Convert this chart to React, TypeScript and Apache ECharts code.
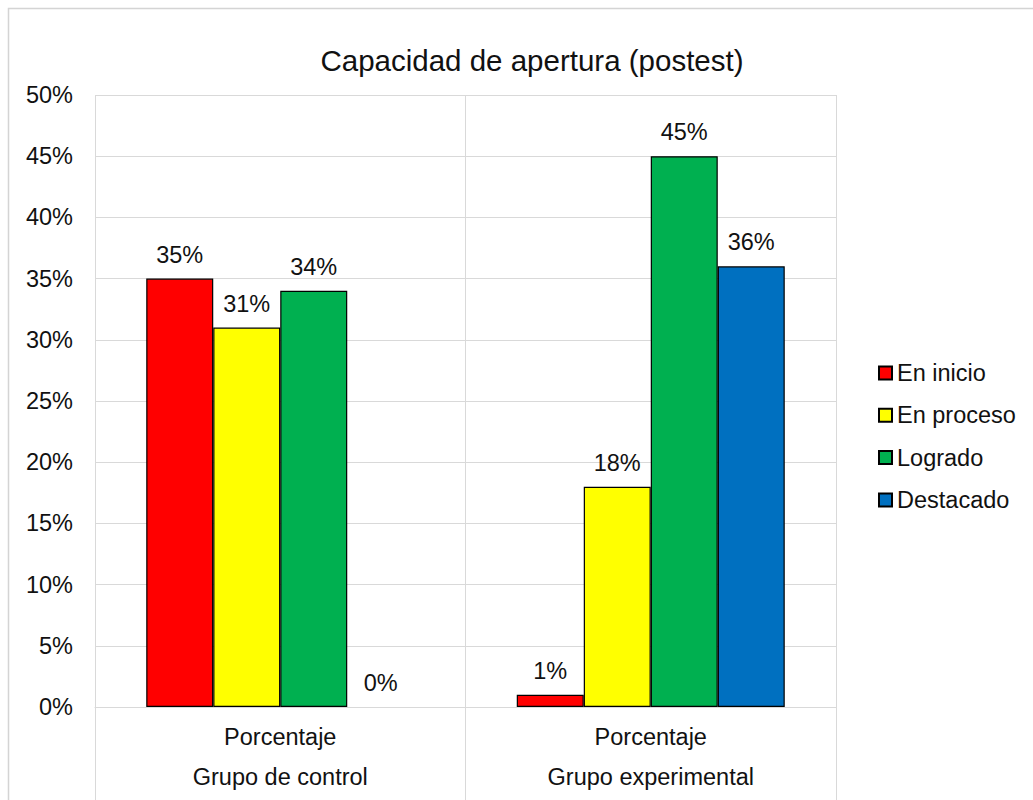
import React, { useEffect, useRef } from "react";
import * as echarts from "echarts";

const groups = ["Grupo de control", "Grupo experimental"];
const subLabel = "Porcentaje";
const enInicio = [35, 1];
const enProceso = [31, 18];
const logrado = [34, 45];
const destacado = [0, 36];
const seriesNames = ["En inicio", "En proceso", "Logrado", "Destacado"];
const seriesColors = ["#FF0000", "#FFFF00", "#00B050", "#0070C0"];
const FONT = "'Liberation Sans', Arial, sans-serif";
const TEXT = "#111111";
const GRID = "#d9d9d9";

export default function App() {
  const ref = useRef<HTMLDivElement>(null);

  useEffect(() => {
    if (!ref.current) return;
    const chart = echarts.init(ref.current, undefined, { renderer: "svg" });
    const values = [enInicio, enProceso, logrado, destacado];

    chart.setOption({
      animation: false,
      backgroundColor: "#ffffff",
      textStyle: { fontFamily: FONT },
      title: {
        text: "Capacidad de apertura (postest)",
        left: 527,
        top: 40,
        textAlign: "center",
        textStyle: { fontFamily: FONT, fontSize: 29.5, fontWeight: "normal", color: TEXT },
      },
      graphic: [
        {
          type: "rect",
          shape: { x: 8.5, y: 8.5, width: 1200, height: 1000 },
          style: { fill: "none", stroke: "#d4d4d4", lineWidth: 1.5 },
          silent: true,
          z: -10,
        },
      ],
      legend: {
        orient: "vertical",
        left: 873,
        top: 356,
        itemWidth: 13,
        itemHeight: 13,
        itemGap: 18.3,
        icon: "rect",
        textStyle: { fontFamily: FONT, fontSize: 23.5, color: TEXT, lineHeight: 24 },
        data: seriesNames,
      },
      grid: { left: 95, right: 197, top: 95, bottom: 93, containLabel: false },
      xAxis: {
        type: "category",
        data: groups,
        boundaryGap: true,
        axisLine: { show: true, lineStyle: { color: GRID, width: 1 } },
        axisTick: { show: true, length: 95, lineStyle: { color: GRID, width: 1 } },
        splitLine: { show: true, lineStyle: { color: GRID, width: 1 } },
        axisLabel: {
          margin: 10,
          interval: 0,
          formatter: (v: string) => `${subLabel}\n${v}`,
          fontFamily: FONT,
          fontSize: 23.5,
          color: TEXT,
          lineHeight: 40,
        },
      },
      yAxis: {
        type: "value",
        min: 0,
        max: 50,
        interval: 5,
        axisLine: { show: false },
        axisTick: { show: false },
        splitLine: { show: true, lineStyle: { color: GRID, width: 1 } },
        axisLabel: {
          margin: 22,
          formatter: (v: number) => `${v}%`,
          fontFamily: FONT,
          fontSize: 23.5,
          color: TEXT,
        },
      },
      series: seriesNames.map((name, i) => ({
        name,
        type: "bar",
        // zero-height bars get no outline so only their label shows
        data: values[i].map((v) =>
          v === 0 ? { value: v, itemStyle: { borderWidth: 0 } } : v
        ),
        barWidth: 67,
        barGap: "0%",
        itemStyle: { color: seriesColors[i], borderColor: "#000000", borderWidth: 1.2 },
        label: {
          show: true,
          position: "top",
          distance: 12,
          formatter: (p: any) => `${p.value}%`,
          fontFamily: FONT,
          fontSize: 23.5,
          color: TEXT,
        },
      })),
    });

    return () => chart.dispose();
  }, []);

  return (
    <div
      ref={ref}
      style={{ position: "absolute", left: 0, top: 0, width: 1033, height: 800 }}
    />
  );
}
